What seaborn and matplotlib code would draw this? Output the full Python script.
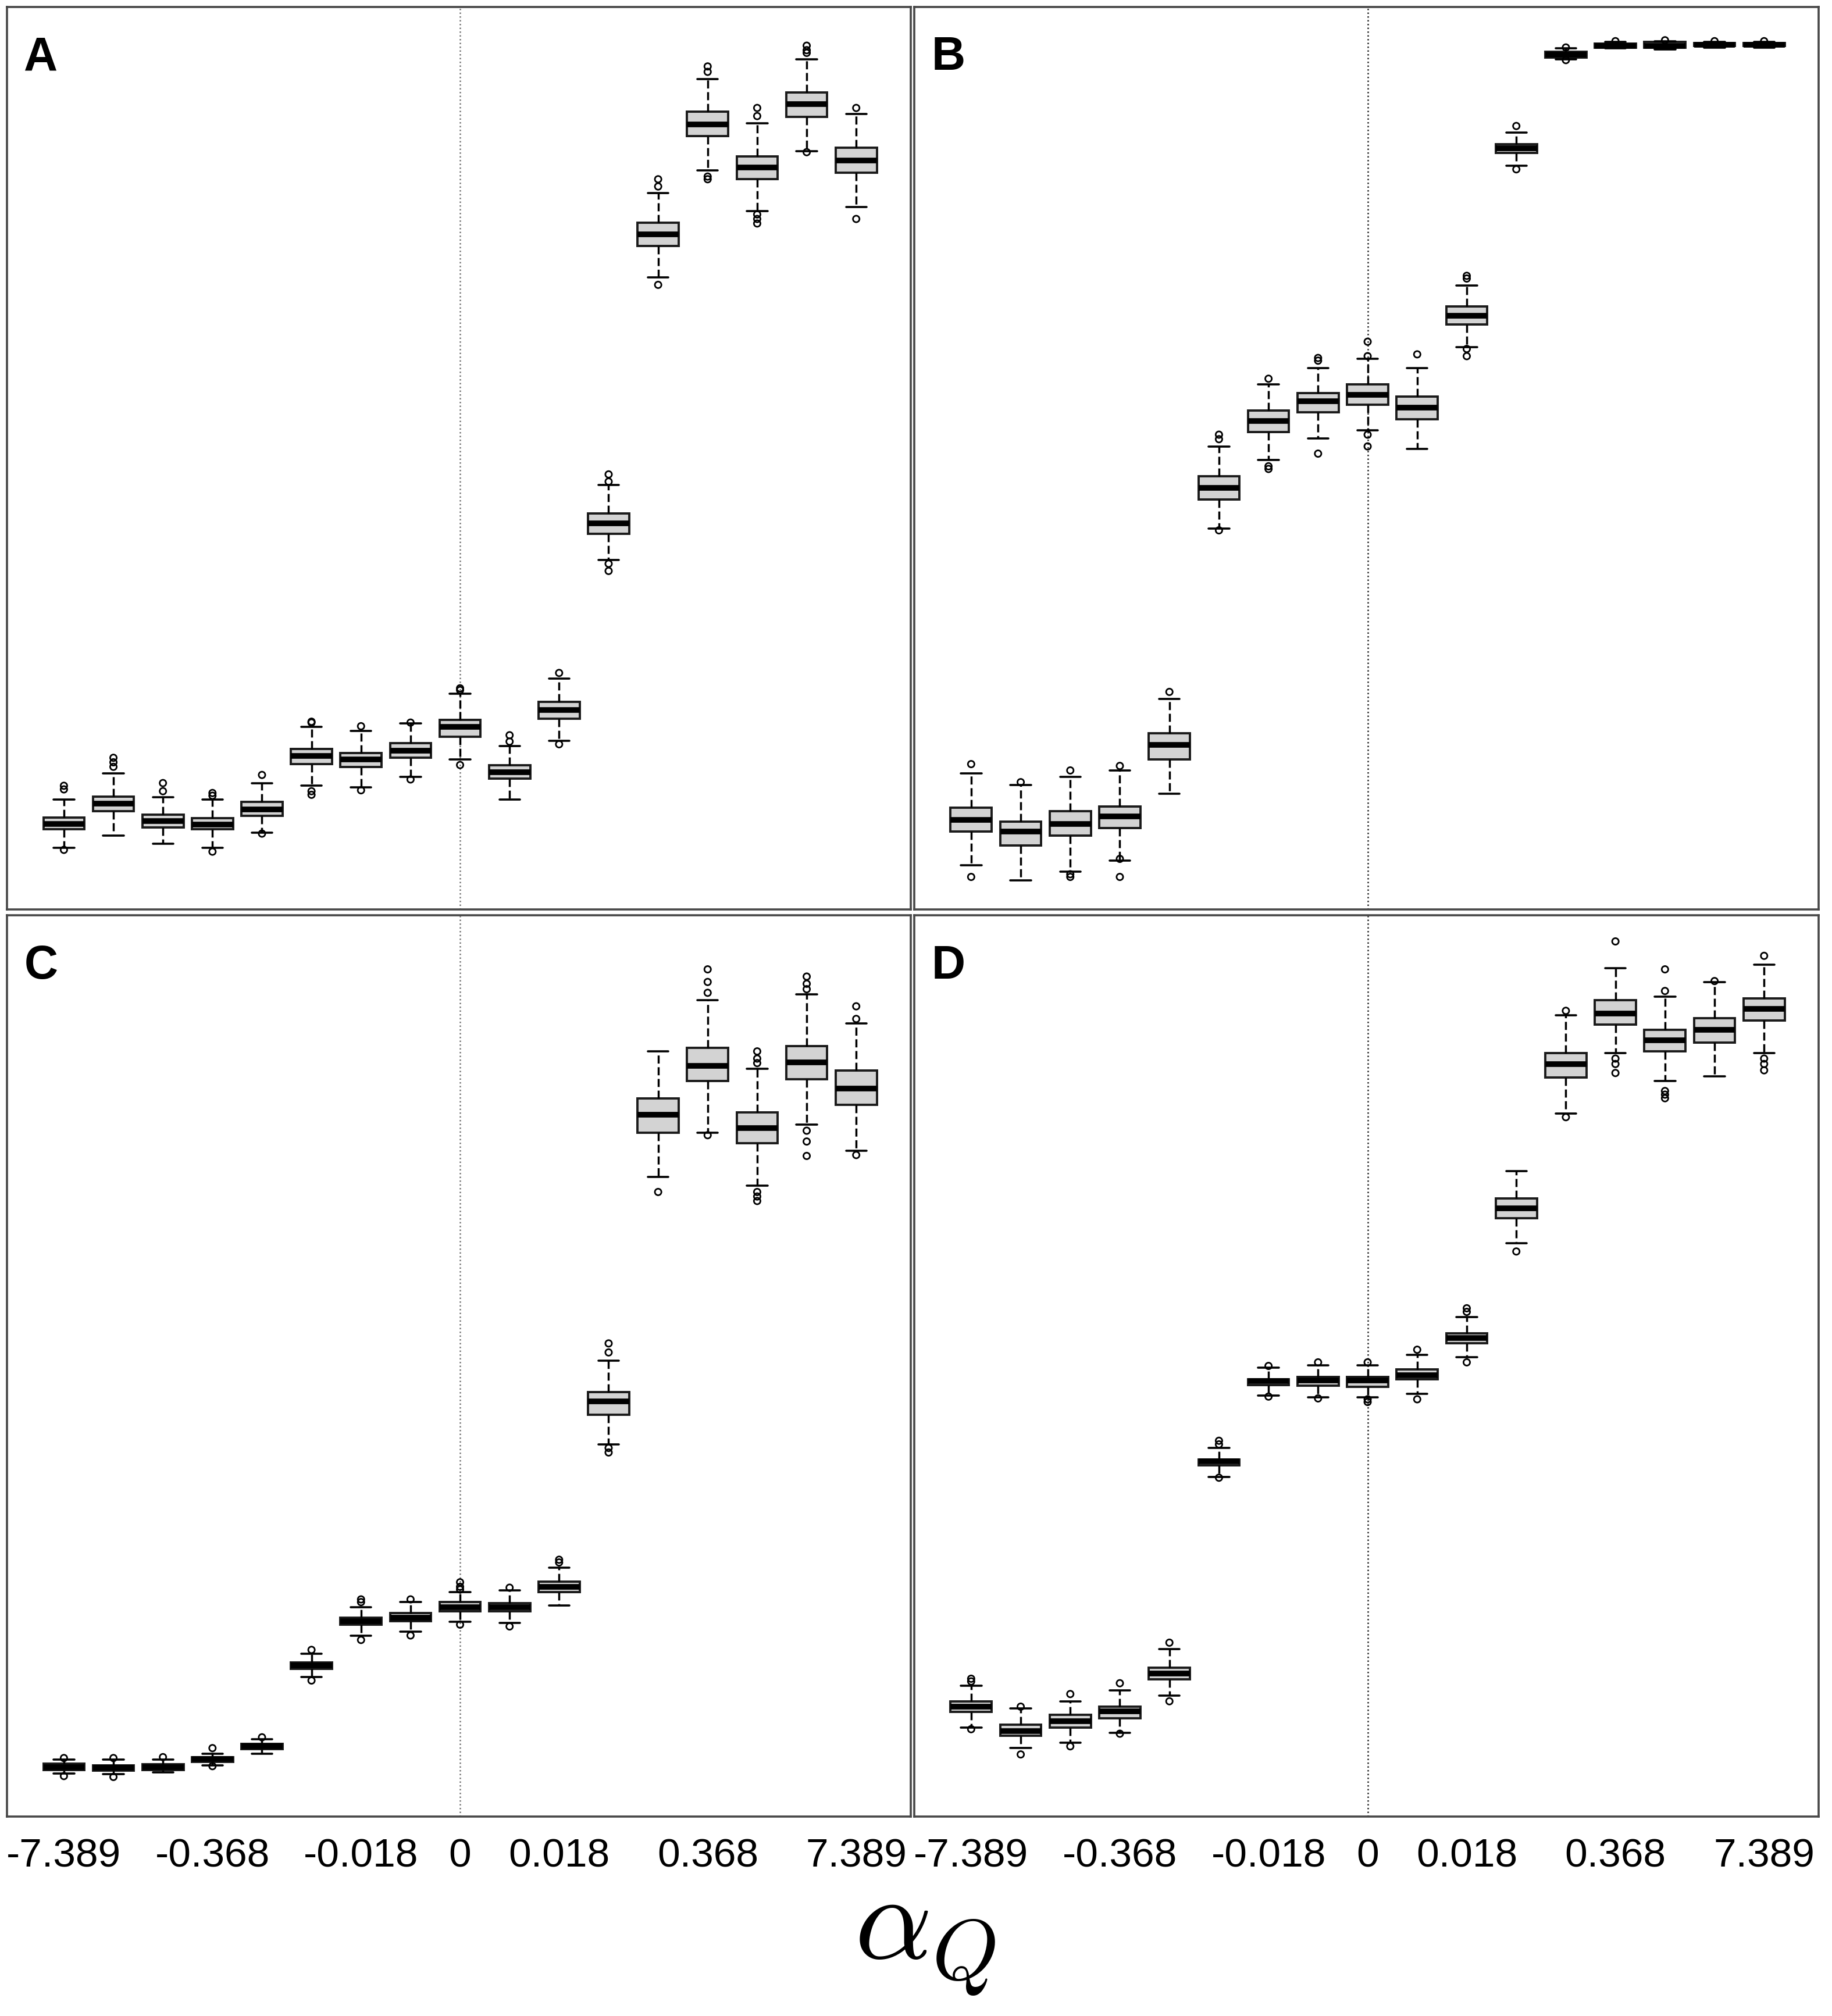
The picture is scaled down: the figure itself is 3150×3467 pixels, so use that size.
import pandas as pd
import seaborn as sns
from matplotlib import pyplot as plt

# alpha_Q categories (17 boxes per panel), only some are labelled
alpha_labels = ["-7.389", "", "", "-0.368", "", "", "-0.018", "", "0",
                "", "0.018", "", "", "0.368", "", "", "7.389"]

# panel A: whisker low, q1, median, q3, whisker high, outliers
a_lo = [6.8, 8.2, 7.3, 6.8, 8.5, 13.7, 13.5, 14.7, 16.6, 12.2, 18.7, 38.7, 70.0, 81.9, 77.4, 84.0, 77.8]
a_q1 = [8.9, 10.9, 9.1, 8.9, 10.4, 16.1, 15.8, 16.8, 19.1, 14.5, 21.1, 41.6, 73.5, 85.7, 80.9, 87.8, 81.6]
a_med = [9.5, 11.7, 9.8, 9.4, 11.1, 17.0, 16.6, 17.6, 20.2, 15.2, 22.1, 42.8, 74.8, 87.0, 82.2, 89.2, 83.0]
a_q3 = [10.2, 12.5, 10.5, 10.1, 11.9, 17.8, 17.3, 18.4, 21.0, 16.0, 23.0, 43.9, 76.1, 88.4, 83.4, 90.5, 84.4]
a_hi = [12.2, 15.1, 12.4, 12.2, 14.0, 20.2, 19.8, 20.6, 23.9, 18.1, 25.6, 47.0, 79.4, 92.0, 87.1, 94.2, 88.1]
a_out = [[13.3, 13.7, 6.6], [15.8, 16.3, 16.8], [13.1, 14.0], [12.6, 12.9, 6.4], [14.9, 8.4],
         [20.7, 20.8, 13.1, 12.7], [20.3, 13.2], [20.7, 14.4], [24.3, 24.5, 16.0], [18.6, 19.3],
         [26.2, 18.3], [47.4, 48.2, 38.3, 37.5], [80.1, 80.9, 69.2], [92.8, 93.4, 81.2, 80.9],
         [87.9, 88.8, 77.0, 76.5, 76.0], [94.9, 95.2, 95.7, 83.9], [88.8, 76.5]]

# panel B
b_lo = [4.9, 3.2, 4.2, 5.4, 12.8, 42.2, 49.8, 52.2, 53.1, 51.0, 62.3, 82.4, 94.2, 95.4, 95.3, 95.5, 95.5]
b_q1 = [8.6, 7.1, 8.2, 9.0, 16.6, 45.4, 52.9, 55.1, 55.9, 54.3, 64.8, 83.8, 94.4, 95.5, 95.5, 95.7, 95.7]
b_med = [9.9, 8.6, 9.5, 10.3, 18.2, 46.7, 54.1, 56.3, 57.0, 55.6, 65.8, 84.3, 94.7, 95.7, 95.7, 95.8, 95.8]
b_q3 = [11.3, 9.7, 10.9, 11.4, 19.5, 48.0, 55.3, 57.2, 58.2, 56.8, 66.8, 84.8, 95.0, 95.9, 96.1, 96.0, 96.0]
b_hi = [15.1, 13.8, 14.7, 15.4, 23.3, 51.3, 58.2, 60.0, 61.0, 60.0, 69.1, 86.1, 95.4, 96.1, 96.2, 96.1, 96.1]
b_out = [[16.1, 3.6], [14.1], [15.4, 3.6, 3.9], [15.9, 5.6, 3.6], [24.1], [52.1, 52.6, 42.0],
         [58.8, 49.1, 48.8], [60.8, 61.1, 50.5], [61.3, 62.9, 52.6, 51.3], [61.5],
         [69.9, 70.2, 62.1, 61.3], [86.8, 82.0], [95.5, 94.1], [96.2], [96.3], [96.2], [96.2]]

# panel C
c_lo = [4.8, 4.7, 4.9, 5.7, 7.0, 15.5, 20.1, 20.5, 21.6, 21.5, 23.4, 41.3, 71.0, 75.9, 70.0, 76.8, 73.9]
c_q1 = [5.2, 5.1, 5.2, 6.1, 7.5, 16.4, 21.3, 21.7, 22.8, 22.8, 24.9, 44.6, 75.9, 81.6, 74.7, 81.8, 79.0]
c_med = [5.5, 5.4, 5.5, 6.4, 7.8, 16.8, 21.7, 22.1, 23.2, 23.2, 25.5, 46.1, 77.9, 83.3, 76.4, 83.7, 80.8]
c_q3 = [5.9, 5.7, 5.8, 6.6, 8.1, 17.1, 22.1, 22.6, 23.8, 23.7, 26.1, 47.1, 79.7, 85.3, 78.1, 85.5, 82.8]
c_hi = [6.3, 6.3, 6.3, 7.0, 8.6, 18.1, 23.2, 23.8, 24.9, 25.1, 27.6, 50.6, 84.9, 90.6, 83.0, 91.2, 88.0]
c_out = [[6.5, 4.5], [6.5, 4.4], [6.6], [7.6, 5.6], [8.8], [18.5, 15.1], [23.8, 24.1, 19.6], [24.1, 20.1],
         [25.2, 25.5, 26.0, 21.3], [25.4, 21.1], [28.2, 28.5], [51.5, 52.5, 40.9, 40.4], [69.3],
         [91.4, 92.6, 94.0, 75.6], [83.6, 84.1, 84.9, 69.3, 68.8, 68.3],
         [91.8, 92.4, 93.2, 76.1, 74.9, 73.3], [88.5, 89.9, 73.4]]

# panel D
d_lo = [9.9, 7.6, 8.2, 9.3, 13.4, 37.7, 46.7, 46.5, 46.5, 46.9, 51.0, 63.6, 78.0, 84.7, 81.6, 82.1, 84.7]
d_q1 = [11.6, 9.0, 9.9, 10.9, 15.2, 39.0, 47.9, 47.8, 47.7, 48.5, 52.5, 66.4, 82.0, 87.9, 84.9, 85.9, 88.3]
d_med = [12.2, 9.5, 10.6, 11.7, 15.9, 39.4, 48.3, 48.4, 48.4, 49.0, 53.1, 67.5, 83.5, 89.1, 86.1, 87.3, 89.6]
d_q3 = [12.8, 10.2, 11.3, 12.2, 16.5, 39.6, 48.5, 48.8, 48.8, 49.6, 53.6, 68.6, 84.7, 90.6, 87.3, 88.6, 90.8]
d_hi = [14.5, 12.0, 12.8, 14.0, 18.6, 40.9, 49.8, 50.1, 50.1, 51.2, 55.4, 71.6, 88.9, 94.1, 91.0, 92.6, 94.5]
d_out = [[15.0, 15.3, 9.7], [12.2, 6.9], [13.6, 7.8], [14.8, 9.2], [19.3, 12.8], [41.3, 41.7, 37.6],
         [50.0, 46.6], [50.4, 46.4], [50.4, 46.3, 46.0], [51.8, 46.3], [56.0, 56.4, 50.4], [62.7],
         [89.4, 77.6], [97.1, 84.1, 83.5, 82.5], [91.6, 94.0, 80.5, 80.1, 79.7], [92.7],
         [95.5, 84.1, 83.5, 82.8]]


def box_frame(lo, q1, med, q3, hi):
    # five points per box reproduce min/q1/median/q3/max exactly
    rows = []
    for i, vals in enumerate(zip(lo, q1, med, q3, hi)):
        for v in vals:
            rows.append((i, v))
    return pd.DataFrame(rows, columns=["pos", "value"])


def out_frame(out):
    rows = [(i, v) for i, vals in enumerate(out) for v in vals]
    return pd.DataFrame(rows, columns=["pos", "value"])


def draw_panel(ax, boxes, out, letter, vcolor, bottom):
    sns.boxplot(box_frame(*boxes), x="pos", y="value", order=range(17),
                whis=(0, 100), width=0.83, color="#d3d3d3", saturation=1,
                linecolor="black", linewidth=2.6, fliersize=0,
                boxprops=dict(edgecolor="#1a1a1a", linewidth=2.8),
                medianprops=dict(color="black", linewidth=7, solid_capstyle="butt"),
                whiskerprops=dict(color="black", linewidth=2.5, linestyle=(0, (4, 1.8))),
                capprops=dict(color="black", linewidth=2.6), ax=ax)
    sns.scatterplot(out_frame(out), x="pos", y="value", marker="o", s=65,
                    facecolors="none", edgecolor="black", linewidth=2,
                    legend=False, zorder=4, ax=ax)
    ax.axvline(8, color=vcolor, linestyle=(0, (1, 1.6)), linewidth=1.8, zorder=0)
    ax.set(xlim=(-1.15, 17.1), ylim=(0, 100), xlabel="", ylabel="", yticks=[])
    ax.set_xticks(range(17), alpha_labels)
    if bottom:
        ax.tick_params(axis="x", length=14, width=2.2, color="#444444",
                       labelcolor="black", pad=12, labelsize=50)
    else:
        ax.tick_params(axis="x", length=0, labelbottom=False)
    for sp in ax.spines.values():
        sp.set_visible(True)
        sp.set_color("#474747")
        sp.set_linewidth(2.6)
    ax.text(0.019, 0.968, letter, transform=ax.transAxes, ha="left", va="top",
            fontsize=58, fontweight="bold", color="black")


sns.set_style("white")
plt.rcParams["font.family"] = ["Liberation Sans", "DejaVu Sans"]
plt.rcParams["mathtext.fontset"] = "cm"
plt.rcParams["text.color"] = "black"

fig = plt.figure(figsize=(31.5, 34.67), dpi=100)
ax_a = fig.add_axes([0.0038, 0.5489, 0.4933, 0.4477])
ax_b = fig.add_axes([0.4990, 0.5489, 0.4937, 0.4477])
ax_c = fig.add_axes([0.0038, 0.0989, 0.4933, 0.4471])
ax_d = fig.add_axes([0.4990, 0.0989, 0.4937, 0.4471])

draw_panel(ax_a, (a_lo, a_q1, a_med, a_q3, a_hi), a_out, "A", "#777777", False)
draw_panel(ax_b, (b_lo, b_q1, b_med, b_q3, b_hi), b_out, "B", "#222222", False)
draw_panel(ax_c, (c_lo, c_q1, c_med, c_q3, c_hi), c_out, "C", "#777777", True)
draw_panel(ax_d, (d_lo, d_q1, d_med, d_q3, d_hi), d_out, "D", "#222222", True)

fig.text(0.505, 0.028, r"$\alpha_Q$", ha="center", va="baseline", fontsize=150)

fig.savefig("out.png", dpi=100)
